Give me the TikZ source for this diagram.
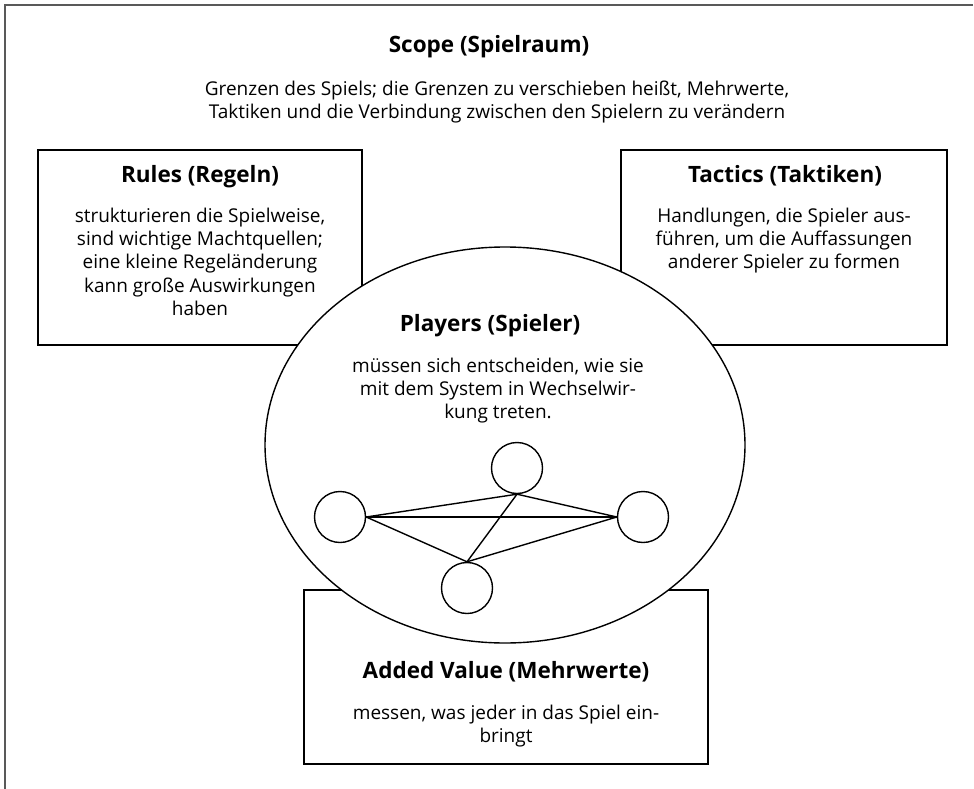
\documentclass[tikz,border=0pt]{standalone}
\usepackage{fontspec}
\setmainfont{Open Sans}
\usetikzlibrary{shapes.geometric}
\begin{document}
\begin{tikzpicture}[x=1pt,y=-1pt,
  frameline/.style={draw=black!65, line width=2pt},
  panel/.style={draw=black, line width=1.4pt, fill=white},
  heading/.style={font=\fontsize{22.5}{26}\selectfont\bfseries, anchor=base, inner sep=0pt},
  body/.style={font=\fontsize{19}{23.3}\selectfont, align=center, anchor=north, inner sep=0pt},
  player/.style={circle, draw=black, line width=1.4pt, fill=white, minimum size=51pt, inner sep=0pt},
  link/.style={draw=black, line width=1.4pt}
]
\useasboundingbox (0,0) rectangle (974,789);

% open frame: top and left edge only
\coordinate (ftl) at (5,5);
\coordinate (ftr) at (973,5);
\coordinate (fbl) at (5,789);
\draw[frameline] (ftr) -- (ftl) -- (fbl);

% scope heading and text
\node[heading] (scopeT) at (489,53) {Scope (Spielraum)};
\node[body] (scopeB) at (497,80.5) {Grenzen des Spiels; die Grenzen zu verschieben heißt, Mehrwerte,\\Taktiken und die Verbindung zwischen den Spielern zu verändern};

% the three boxes
\draw[panel] (38,150) rectangle (362,345);
\draw[panel] (621,150) rectangle (947,345);
\draw[panel] (304,590) rectangle (708,764);

% players ellipse on top of the boxes
\node[ellipse, panel, minimum width=480pt, minimum height=396pt, inner sep=0pt] (players) at (505,445) {};

% box texts
\node[heading] (rulesT) at (200,182) {Rules (Regeln)};
\node[body] (rulesB) at (200,207.5) {strukturieren die Spielweise,\\sind wichtige Machtquellen;\\eine kleine Regeländerung\\kann große Auswirkungen\\haben};

\node[heading] (tacticsT) at (785,182) {Tactics (Taktiken)};
\node[body] (tacticsB) at (784,207.5) {Handlungen, die Spieler aus-\\führen, um die Auffassungen\\anderer Spieler zu formen};

\node[heading] (playersT) at (490,331) {Players (Spieler)};
\node[body] (playersB) at (498,357.5) {müssen sich entscheiden, wie sie\\mit dem System in Wechselwir-\\kung treten.};

\node[heading] (addedT) at (506,678) {Added Value (Mehrwerte)};
\node[body] (addedB) at (506,705) {messen, was jeder in das Spiel ein-\\bringt};

% four players, all connected
\node[player] (pl) at (340,517) {};
\node[player] (pr) at (643,517) {};
\node[player] (pt) at (517,468) {};
\node[player] (pb) at (467,588) {};

\draw[link] (pl.east) -- (pt.south);
\draw[link] (pl.east) -- (pr.west);
\draw[link] (pl.east) -- (pb.north);
\draw[link] (pt.south) -- (pr.west);
\draw[link] (pt.south) -- (pb.north);
\draw[link] (pb.north) -- (pr.west);
\end{tikzpicture}
\end{document}
